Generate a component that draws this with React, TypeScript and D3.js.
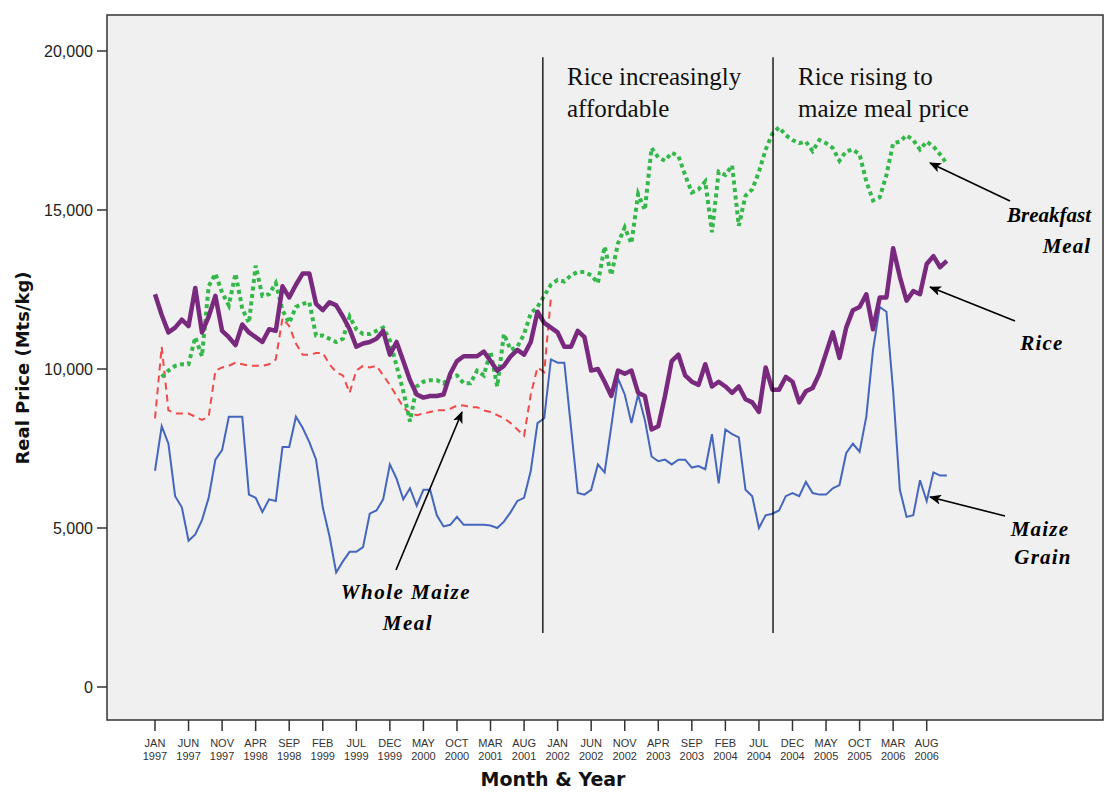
import React from "react";
import * as d3 from "d3";

const MONTHS = ["JAN","FEB","MAR","APR","MAY","JUN","JUL","AUG","SEP","OCT","NOV","DEC"];
const START_YEAR = 1997;
const N_MONTHS = 119; // Jan 1997 .. Nov 2006
const TICK_EVERY = 5;

const maizeGrain: number[] = [
  6800, 8200, 7650, 6000, 5650, 4600, 4800, 5250, 5950, 7150,
  7450, 8500, 8500, 8500, 6050, 5950, 5500, 5900, 5850, 7550,
  7550, 8500, 8150, 7700, 7150, 5650, 4750, 3600, 3950, 4250,
  4250, 4400, 5450, 5550, 5900, 7000, 6550, 5900, 6250, 5700,
  6200, 6200, 5400, 5050, 5100, 5350, 5100, 5100, 5100, 5100,
  5080, 5000, 5200, 5500, 5850, 5950, 6800, 8300, 8450, 10300,
  10200, 10200, 8150, 6100, 6050, 6200, 7000, 6750, 8200, 9700,
  9200, 8300, 9200, 8400, 7250, 7100, 7150, 7000, 7150, 7150,
  6900, 6950, 6850, 7950, 6400, 8100, 7950, 7850, 6200, 6000,
  5000, 5400, 5450, 5550, 6000, 6100, 6000, 6450, 6100, 6050,
  6050, 6250, 6350, 7350, 7650, 7400, 8500, 10600, 11950, 11800,
  9300, 6200, 5350, 5400, 6500, 5850, 6750, 6650, 6650,
];

const rice: number[] = [
  12350, 11700, 11150, 11300, 11550, 11350, 12550, 11150, 11650, 12300,
  11200, 11000, 10750, 11400, 11150, 11000, 10850, 11250, 11200, 12600,
  12250, 12650, 13000, 13000, 12050, 11850, 12100, 12000, 11650, 11250,
  10700, 10800, 10850, 10950, 11200, 10450, 10850, 10250, 9650, 9200,
  9100, 9150, 9150, 9200, 9850, 10250, 10400, 10400, 10400, 10550,
  10250, 9950, 10100, 10400, 10600, 10450, 10850, 11800, 11450, 11300,
  11150, 10700, 10700, 11200, 11000, 9950, 10000, 9600, 9150, 9950,
  9850, 9950, 9250, 9150, 8100, 8200, 9150, 10250, 10450, 9800,
  9600, 9500, 10150, 9450, 9600, 9450, 9250, 9450, 9050, 8950,
  8650, 10050, 9350, 9350, 9750, 9600, 8950, 9300, 9400, 9850,
  10500, 11150, 10350, 11300, 11850, 11950, 12350, 11250, 12250, 12250,
  13800, 12900, 12150, 12450, 12350, 13300, 13550, 13200, 13400,
];

const breakfastMeal: (number | null)[] = [
  null, 9750, 9950, 10100, 10150, 10150, 11000, 10400, 12600, 13000,
  12400, 12000, 13000, 11900, 11450, 13250, 12300, 12350, 12700, 11850,
  11450, 11950, 12050, 12100, 11050, 11050, 10950, 10850, 10950, 11650,
  11250, 11100, 11100, 11200, 11300, 10900, 10100, 9300, 8350, 9450,
  9600, 9650, 9650, 9550, 9750, 9800, 9550, 9550, 9950, 9800,
  10550, 9450, 11100, 10600, 10700, 11100, 11750, 11950, 12300, 12650,
  12800, 12750, 12950, 13050, 13050, 12950, 12700, 13850, 12950, 13950,
  14450, 13950, 15500, 15000, 16950, 16650, 16550, 16800, 16700, 16100,
  15550, 15650, 15900, 14300, 16200, 16100, 16400, 14500, 15450, 15650,
  16200, 16900, 17400, 17600, 17350, 17200, 17100, 17150, 16850, 17200,
  17100, 16950, 16550, 16850, 16900, 16750, 15900, 15300, 15400, 16100,
  17100, 17150, 17350, 17200, 16900, 17150, 17000, 16750, 16450,
];

const wholeMaizeMeal: (number | null)[] = [
  8450, 10700, 8700, 8600, 8600, 8600, 8500, 8400, 8500, 9950,
  10050, 10100, 10200, 10150, 10100, 10100, 10100, 10150, 10300, 11600,
  11350, 10800, 10450, 10450, 10500, 10500, 10150, 9900, 9800, 9250,
  9950, 10100, 10050, 10100, 9800, 9500, 9150, 8800, 8600, 8550,
  8600, 8650, 8700, 8700, 8750, 8850, 8850, 8800, 8800, 8700,
  8650, 8550, 8450, 8300, 8100, 7900, 9200, 10050, 9900, 12250,
];

const yTicks = [0, 5000, 10000, 15000, 20000];
const periodLines = [57.8, 92.1];

const W = 1115;
const H = 792;
const PLOT = { left: 107, top: 15, right: 1103, bottom: 720 };

export default function App() {
  const x = d3.scaleLinear().domain([0, 115]).range([155, 926.7]);
  const y = d3.scaleLinear().domain([0, 20000]).range([687, 51]);

  const mk = (arr: (number | null)[]) =>
    d3
      .line<number | null>()
      .defined((d) => d !== null && d !== undefined)
      .x((_, i) => x(i))
      .y((d) => y(d as number))(arr) || "";

  const tickIdx = d3.range(0, N_MONTHS, TICK_EVERY).filter((i) => i <= 115);

  const sans = "'Liberation Sans', Arial, sans-serif";
  const titleFont = "'DejaVu Sans', Verdana, sans-serif";
  const serif = "'Liberation Serif', 'Times New Roman', serif";

  return (
    <svg width={W} height={H} style={{ position: "absolute", left: 0, top: 0, background: "#fff" }}>
      <defs>
        <marker id="ah" viewBox="0 0 12 10" refX="11" refY="5" markerWidth="12" markerHeight="10" markerUnits="userSpaceOnUse" orient="auto">
          <path d="M0,0 L12,5 L0,10 L3,5 Z" fill="#000" />
        </marker>
      </defs>
      <rect x={PLOT.left} y={PLOT.top} width={PLOT.right - PLOT.left} height={PLOT.bottom - PLOT.top} fill="#f0f0f0" stroke="#333" strokeWidth={1.5} />

      {/* y axis ticks */}
      {yTicks.map((t) => (
        <g key={t}>
          <line x1={97} x2={PLOT.left} y1={y(t)} y2={y(t)} stroke="#333" strokeWidth={1.5} />
          <text x={93} y={y(t) + 5.5} textAnchor="end" fontFamily={sans} fontSize={16} fill="#222">
            {d3.format(",")(t)}
          </text>
        </g>
      ))}

      {/* x axis ticks */}
      {tickIdx.map((i) => (
        <g key={i}>
          <line x1={x(i)} x2={x(i)} y1={PLOT.bottom} y2={731} stroke="#333" strokeWidth={1.5} />
          <text x={x(i)} y={747} textAnchor="middle" fontFamily={sans} fontSize={11} fill="#333">
            {MONTHS[i % 12]}
          </text>
          <text x={x(i)} y={760} textAnchor="middle" fontFamily={sans} fontSize={11} fill="#333">
            {START_YEAR + Math.floor(i / 12)}
          </text>
        </g>
      ))}

      {/* series */}
      <path d={mk(wholeMaizeMeal)} fill="none" stroke="#f04a4a" strokeWidth={2} strokeDasharray="7,5" />
      <path d={mk(maizeGrain)} fill="none" stroke="#4566bd" strokeWidth={2} />
      <path d={mk(breakfastMeal)} fill="none" stroke="#35b84a" strokeWidth={4} strokeDasharray="4,3.5" />
      <path d={mk(rice)} fill="none" stroke="#7a2a7e" strokeWidth={4.5} strokeLinejoin="round" />

      {/* period lines */}
      {periodLines.map((p) => (
        <line key={p} x1={x(p)} x2={x(p)} y1={y(19800)} y2={y(1700)} stroke="#000" strokeWidth={1.3} />
      ))}

      {/* period annotations */}
      <text fontFamily={serif} fontSize={25} fill="#111">
        <tspan x={567} y={85}>Rice increasingly</tspan>
        <tspan x={567} y={117}>affordable</tspan>
      </text>
      <text fontFamily={serif} fontSize={25} fill="#111">
        <tspan x={798} y={85}>Rice rising to</tspan>
        <tspan x={798} y={117}>maize meal price</tspan>
      </text>

      {/* series labels */}
      <g fontFamily={serif} fontWeight="bold" fontStyle="italic" fontSize={21} fill="#000">
        <text textAnchor="end">
          <tspan x={1091} y={222}>Breakfast</tspan>
          <tspan x={1091} y={253} letterSpacing={1}>Meal</tspan>
        </text>
        <text x={1042} y={350} textAnchor="middle" letterSpacing={1.2}>Rice</text>
        <text textAnchor="middle" letterSpacing={1.2}>
          <tspan x={1040} y={536}>Maize</tspan>
          <tspan x={1043} y={564}>Grain</tspan>
        </text>
        <text textAnchor="middle" letterSpacing={1.5}>
          <tspan x={406} y={599}>Whole Maize</tspan>
          <tspan x={408} y={630}>Meal</tspan>
        </text>
      </g>

      {/* arrows */}
      <g stroke="#000" strokeWidth={1.6} markerEnd="url(#ah)">
        <line x1={1010} y1={201} x2={930} y2={163} />
        <line x1={1015} y1={321} x2={930} y2={287} />
        <line x1={1005} y1={516} x2={930} y2={497} />
        <line x1={396} y1={570} x2={462} y2={412} />
      </g>

      {/* axis titles */}
      <text x={553} y={786} textAnchor="middle" fontFamily={titleFont} fontWeight="bold" fontSize={19} fill="#111">
        Month &amp; Year
      </text>
      <text transform="translate(29,368) rotate(-90)" textAnchor="middle" fontFamily={titleFont} fontWeight="bold" fontSize={18} fill="#111">
        Real Price (Mts/kg)
      </text>
    </svg>
  );
}
